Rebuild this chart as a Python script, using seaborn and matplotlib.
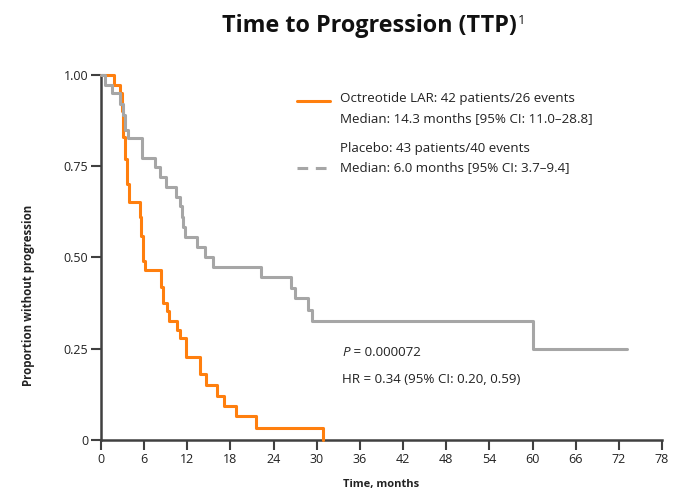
import numpy as np
import pandas as pd
import matplotlib
matplotlib.use("Agg")
import matplotlib.pyplot as plt
import seaborn as sns
from matplotlib.lines import Line2D

# ---- data ----
oct_t = [0, 1.8, 2.7, 2.9, 3.1, 3.3, 3.6, 3.9, 5.4, 5.6, 5.8, 6.1, 8.3, 8.6, 9.2, 9.5,
         10.6, 11.0, 11.8, 13.8, 14.6, 16.1, 17.1, 18.8, 21.6, 30.9]
oct_p = [1.0, 0.973, 0.95, 0.90, 0.83, 0.77, 0.70, 0.651, 0.61, 0.56, 0.49, 0.466, 0.42, 0.374,
         0.352, 0.327, 0.301, 0.279, 0.228, 0.181, 0.151, 0.121, 0.093, 0.066, 0.034, 0.0]

pla_t = [0, 0.55, 1.6, 2.7, 3.0, 3.3, 3.8, 5.7, 7.5, 8.2, 9.1, 10.4, 11.0, 11.2, 11.4, 11.7,
         13.3, 14.5, 15.6, 22.3, 26.4, 27.0, 28.8, 29.3, 60.1, 73.2]
pla_p = [1.0, 0.973, 0.95, 0.92, 0.89, 0.85, 0.827, 0.773, 0.748, 0.72, 0.693, 0.666, 0.64,
         0.61, 0.584, 0.557, 0.530, 0.502, 0.475, 0.447, 0.415, 0.388, 0.356, 0.327, 0.249, 0.249]

groups = ["Octreotide LAR", "Placebo"]
legend_lines = [
    ["Octreotide LAR: 42 patients/26 events", "Median: 14.3 months [95% CI: 11.0\u201328.8]"],
    ["Placebo: 43 patients/40 events", "Median: 6.0 months [95% CI: 3.7\u20139.4]"],
]
x_ticks = list(range(0, 79, 6))
y_ticks = [0, 0.25, 0.5, 0.75, 1.0]
y_ticklabels = ["0", "0.25", "0.50", "0.75", "1.00"]

df = pd.concat([
    pd.DataFrame({"t": oct_t, "p": oct_p, "group": groups[0]}),
    pd.DataFrame({"t": pla_t, "p": pla_p, "group": groups[1]}),
], ignore_index=True)

ORANGE = "#FF7F0E"
GREY = "#A6A6A6"
TXT = "#222222"
AX = "#404040"
FS = 9.6

sns.set_theme(style="white")
plt.rcParams["font.family"] = ["Open Sans", "DejaVu Sans"]

fig = plt.figure(figsize=(6.79, 4.93), dpi=100)
ax = fig.add_axes([0.1487, 0.1075, 0.975 - 0.1487, 0.848 - 0.1075])

sns.lineplot(data=df, x="t", y="p", hue="group", palette={groups[0]: ORANGE, groups[1]: GREY},
             drawstyle="steps-post", estimator=None, sort=False, linewidth=2.2, ax=ax,
             legend=False)
for ln in ax.lines:
    ln.set_clip_on(False)
    ln.set_zorder(3)

ax.set_xlim(0, 78)
ax.set_ylim(0, 1.0)
ax.set_xticks(x_ticks)
ax.set_xticklabels([str(v) for v in x_ticks])
ax.set_yticks(y_ticks)
ax.set_yticklabels(y_ticklabels)
for s in ["top", "right"]:
    ax.spines[s].set_visible(False)
for s in ["left", "bottom"]:
    ax.spines[s].set_color(AX)
    ax.spines[s].set_linewidth(1.8)
ax.tick_params(axis="both", which="major", direction="out", length=7, width=1.5,
               color=AX, labelsize=9, labelcolor=TXT, pad=2, left=True, bottom=True)
ax.set_xlabel("Time, months", fontsize=8.0, fontweight="bold", color=TXT, labelpad=10)
ax.set_ylabel("Proportion without progression", fontsize=8.3, fontweight="bold", color=TXT)
ax.yaxis.set_label_coords(-0.118, 0.397)

# legend (manual, matching layout)
def ax_xy(px, py):
    return (px - 101) / (662 - 101), (440 - py) / (440 - 75)

x0, y0 = ax_xy(297, 101)
x1, _ = ax_xy(330, 101)
ax.add_line(Line2D([x0, x1], [y0, y0], color=ORANGE, lw=2.2, transform=ax.transAxes,
                   clip_on=False))
_, y2 = ax_xy(297, 168)
ax.add_line(Line2D([x0, x1], [y2, y2], color=GREY, lw=2.2, ls=(0, (3.5, 2.5)),
                   transform=ax.transAxes, clip_on=False))
tx, _ = ax_xy(340, 0)
for (l1, l2), ya, yb in [(legend_lines[0], 99, 119), (legend_lines[1], 149, 168)]:
    ax.text(tx, ax_xy(0, ya)[1], l1, transform=ax.transAxes, fontsize=FS, color=TXT,
            va="center", ha="left")
    ax.text(tx, ax_xy(0, yb)[1], l2, transform=ax.transAxes, fontsize=FS, color=TXT,
            va="center", ha="left")

# P and HR annotations
px_, py_ = ax_xy(342, 353)
tp = ax.text(px_, py_, "P", transform=ax.transAxes, fontsize=FS, color=TXT, style="italic",
             va="center", ha="left")
ax.annotate(" = 0.000072", xy=(1, 0.5), xycoords=tp, fontsize=FS, color=TXT,
            va="center", ha="left")
hx, hy = ax_xy(342, 380)
ax.text(hx, hy, "HR = 0.34 (95% CI: 0.20, 0.59)", transform=ax.transAxes, fontsize=FS,
        color=TXT, va="center", ha="left")

# title with superscript
tt = fig.text(222 / 679, 1 - 32 / 493, "Time to Progression (TTP)", fontsize=16.8,
              fontweight="bold", color="#111111", va="baseline", ha="left")
ax.annotate("1", xy=(1, 0.72), xycoords=tt, xytext=(0.5, 0), textcoords="offset points",
            fontsize=9.5, color="#111111", va="center", ha="left", annotation_clip=False)

fig.savefig("out.png", dpi=100)
